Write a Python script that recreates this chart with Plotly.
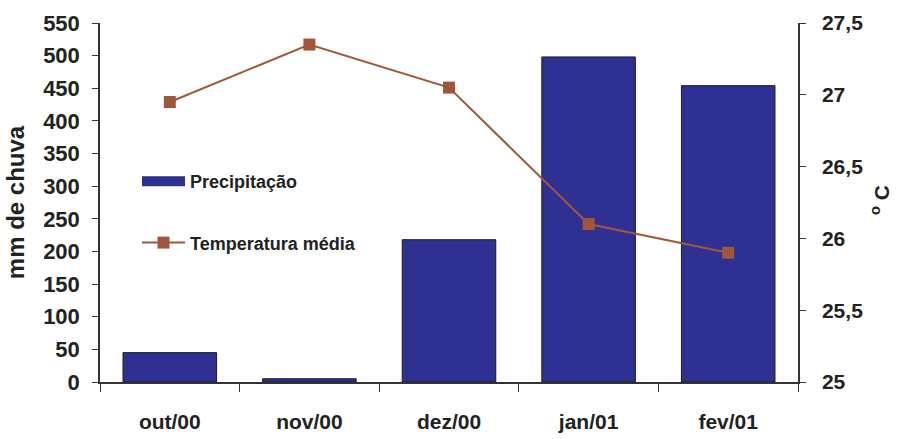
import plotly.graph_objects as go

months = ["out/00", "nov/00", "dez/00", "jan/01", "fev/01"]
precip_mm = [45, 5, 218, 498, 454]
temp_media = [26.95, 27.35, 27.05, 26.1, 25.9]

left_ticks = list(range(0, 551, 50))
right_ticks = [25, 25.5, 26, 26.5, 27, 27.5]
right_ticktext = ["25", "25,5", "26", "26,5", "27", "27,5"]

fam = "Liberation Sans"
ink = "#222"
bar_blue = "#2E3192"
temp_brown = "#A0563B"

def bfont(size):
    return dict(family=fam, size=size, color=ink, weight="bold")

fig = go.Figure()
fig.add_trace(go.Bar(
    x=months, y=precip_mm, name="Precipitação",
    marker=dict(color=bar_blue, line=dict(color="#1a1a1a", width=1)),
    showlegend=False,
))
# legend-only swatch for the bars: a wide, thick block
fig.add_trace(go.Scatter(
    x=[None], y=[None], name="Precipitação", mode="lines",
    line=dict(color=bar_blue, width=14),
    legendgroup="a",
))
fig.add_trace(go.Scatter(
    x=months, y=temp_media, name="Temperatura média", yaxis="y2",
    mode="lines+markers",
    line=dict(color=temp_brown, width=2),
    marker=dict(symbol="square", size=12, color=temp_brown),
    legendgroup="b",
))

fig.update_layout(
    width=900, height=439,
    margin=dict(l=100, r=102, t=23, b=57),
    paper_bgcolor="white", plot_bgcolor="white",
    bargap=0.33,
    showlegend=True,
    legend=dict(
        x=0.053, y=0.61, xanchor="left", yanchor="top",
        bgcolor="rgba(0,0,0,0)",
        font=bfont(18), itemwidth=43,
        traceorder="grouped", tracegroupgap=35,
    ),
    xaxis=dict(
        showline=True, linecolor="#333", linewidth=1.5,
        ticks="outside", tickson="boundaries", ticklen=8, tickcolor="#333",
        tickfont=bfont(21), ticklabelstandoff=20,
        showgrid=False, automargin=False,
    ),
    yaxis=dict(
        range=[0, 550], tickvals=left_ticks,
        showline=True, linecolor="#333", linewidth=1.5,
        ticks="outside", ticklen=6, tickcolor="#333",
        tickfont=bfont(22), ticklabelstandoff=8,
        showgrid=False, zeroline=False, automargin=False,
        title=dict(text="mm de chuva", font=bfont(24), standoff=12),
    ),
    yaxis2=dict(
        range=[25, 27.5], overlaying="y", side="right",
        tickvals=right_ticks, ticktext=right_ticktext,
        showline=True, linecolor="#333", linewidth=1.5,
        ticks="outside", ticklen=6, tickcolor="#333",
        tickfont=bfont(21), ticklabelstandoff=12,
        showgrid=False, zeroline=False, automargin=False,
    ),
    annotations=[dict(
        text="<sup>o</sup> C", xref="paper", yref="paper",
        x=1.0, xshift=97, y=0.507, showarrow=False, textangle=-90,
        font=bfont(21),
    )],
)
fig.write_html("out.html")
